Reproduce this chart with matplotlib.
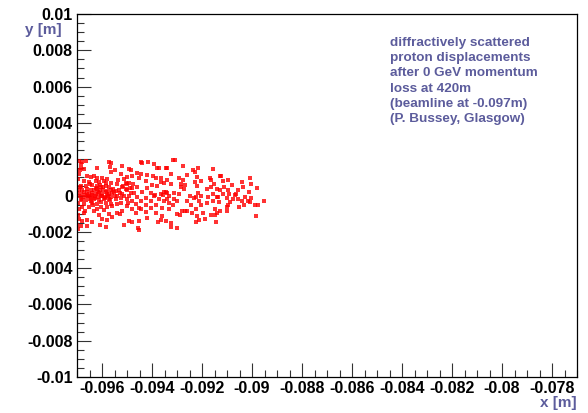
import numpy as np
from matplotlib import pyplot as plt
from matplotlib.ticker import MultipleLocator, FuncFormatter

# Proton hit positions, in millimetres.
x_mm = [
    # far end of the band
    -90.08, -90.39, -90.03, -90.36, -89.79, -90.55, -90.11, -90.63, -90.27, -90.03,
    -90.55, -90.39, -90.16, -90.09, -89.52, -90.32, -89.89, -89.75, -90.52, -89.83,
    # around -0.092
    -92.16, -92.27, -91.55, -91.28, -91.23, -92.20, -91.69, -91.65, -90.95, -92.05,
    -91.17, -92.28, -91.51, -90.81, -92.19, -91.63, -91.12, -91.41, -91.79, -90.95,
    -91.29, -92.16, -91.55, -91.15, -90.93, -91.75, -91.41, -91.36, -90.69, -92.25,
    -92.03, -90.99, -90.76, -92.12, -91.55, -91.31, -91.81, -90.88, -90.96, -92.05,
    -90.99, -92.25, -91.48, -91.28, -90.99, -91.41, -91.97, -91.63, -91.49, -92.21,
    -91.88, -92.12, -92.25, -91.44,
    # around -0.093
    -93.15, -93.09, -93.79, -93.71, -93.45, -93.39, -92.75, -92.35, -93.25, -92.59,
    -93.85, -93.65, -92.92, -93.39, -92.75, -93.63, -93.52, -93.25, -92.85, -92.69,
    -93.79, -92.83, -92.72, -93.52, -93.45, -93.41, -93.63, -93.55, -93.12, -92.92,
    -93.88, -93.32, -92.48, -92.32, -93.72, -93.39, -93.12, -93.52, -92.99, -92.59,
    -93.32, -92.45, -93.85, -93.15, -93.59, -93.32, -92.79, -92.69, -92.59, -92.99,
    -92.88, -93.85, -92.39, -93.59, -93.65, -93.45, -93.25, -93.76, -93.01, -93.25,
    # around -0.0945
    -94.45, -94.39, -94.15, -93.92, -94.92, -94.85, -95.48, -94.61, -94.43, -94.19,
    -93.95, -95.25, -94.79, -94.52, -95.12, -94.25, -95.05, -94.99, -94.92, -94.75,
    -95.39, -93.99, -95.19, -94.88, -94.79, -94.59, -94.19, -95.32, -95.01, -95.52,
    -95.45, -94.72, -94.39, -94.05, -95.19, -95.12, -94.92, -95.39, -94.59, -94.25,
    -93.92, -95.45, -95.01, -94.79, -94.45, -94.05, -95.25, -94.65, -94.25, -94.99,
    -94.52, -94.45, -94.05, -94.79, -95.19, -94.25, -95.41, -94.65, -94.92, -94.79,
    -94.52, -94.19, -95.12, -94.56, -94.52,
    # dense core next to the beamline
    -96.92, -96.79, -96.65, -95.72, -95.63, -96.85, -96.72, -95.63, -96.92, -96.59,
    -96.45, -96.32, -96.19, -95.99, -95.79, -96.72, -96.52, -96.25, -96.12, -95.92,
    -95.65, -96.85, -96.65, -96.39, -96.19, -96.05, -95.85, -95.72, -96.92, -96.79,
    -96.59, -96.45, -96.32, -96.21, -96.08, -95.95, -95.79, -95.63, -96.99, -96.85,
    -96.72, -96.52, -96.39, -96.25, -96.12, -95.99, -95.85, -95.72, -95.59,
    -96.92, -96.75, -96.61, -96.45, -96.29, -96.16, -96.03, -95.89, -95.76, -95.63,
    -96.85, -96.65, -96.48, -96.32, -96.12, -95.92, -95.72,
    -96.96, -96.72, -96.39, -96.19, -95.85, -95.65,
    -96.79, -96.52, -96.05, -95.79, -96.92, -96.32, -95.92, -96.72, -96.12, -95.72,
    -96.92, -96.79, -96.59, -95.99, -95.79, -96.99, -96.85, -96.59, -95.85,
    -96.70, -96.55, -96.40, -96.30, -96.15, -96.00, -95.90, -95.80, -96.60, -96.45,
    -96.25, -96.05, -95.95, -95.70, -95.55, -95.50, -96.80, -96.90, -96.35, -96.10,
    -95.60, -95.30, -95.25, -95.05, -94.95, -95.15, -94.85, -96.50, -96.20, -95.85,
    -95.40, -95.35, -96.70, -96.95, -96.95, -96.90, -96.98, -96.85, -95.20, -95.60,
    -95.30, -95.00, -95.70, -96.20, -96.40, -96.10,
]
y_mm = [
    0.99, 0.73, 0.65, 0.46, 0.43, 0.28, 0.22, 0.06, -0.07, -0.13,
    -0.22, -0.31, -0.31, -0.35, -0.28, -0.50, -0.54, -0.54, -0.62, -1.12,
    1.51, 1.29, 1.44, 1.07, 1.07, 1.01, 0.94, 0.88, 0.83, 0.79,
    0.79, 0.76, 0.66, 0.59, 0.54, 0.48, 0.46, 0.37, 0.37, 0.31,
    0.33, 0.15, 0.09, 0.06, 0.06, -0.06, -0.06, -0.06, 0.02, -0.07,
    -0.04, -0.15, -0.22, -0.28, -0.28, -0.37, -0.44, -0.37, -0.50, -0.54,
    -0.62, -0.73, -0.72, -0.88, -0.88, -0.95, -0.95, -1.10, -1.05, -1.14,
    -1.32, -1.36, -1.44, -1.44,
    1.93, 1.93, 1.53, 1.53, 1.53, 1.49, 1.62, 1.40, 1.21, 1.14,
    0.98, 0.98, 0.95, 0.88, 0.84, 0.76, 0.68, 0.65, 0.66, 0.59,
    0.55, 0.48, 0.37, 0.18, 0.18, 0.15, 0.09, 0.04, 0.15, 0.06,
    0.02, -0.04, -0.04, -0.13, -0.22, -0.17, -0.22, -0.31, -0.31, -0.31,
    -0.40, -0.50, -0.50, -0.55, -0.68, -0.73, -0.83, -0.87, -0.87, -1.01,
    -1.05, -0.99, -0.99, -1.14, -1.36, -1.38, -1.51, -1.47, -1.78, -1.73,
    1.84, 1.81, 1.84, 1.71, 1.47, 1.40, 1.38, 1.25, 1.18, 1.14,
    1.07, 1.16, 1.07, 0.99, 0.92, 0.79, 0.70, 0.65, 0.70, 0.61,
    0.65, 0.57, 0.48, 0.43, 0.39, 0.48, 0.39, 0.33, 0.29, 0.18,
    0.24, 0.15, 0.18, 0.15, 0.06, 0.00, 0.00, -0.04, -0.09, -0.13,
    -0.04, -0.22, -0.22, -0.28, -0.31, -0.31, -0.40, -0.46, -0.50, -0.59,
    -0.68, -0.72, -0.68, -0.77, -0.87, -0.92, -0.95, -0.99, -1.42, -1.47,
    -1.42, -1.23, -1.60, -1.78, -1.88,
    1.89, 1.84, 1.88, 1.84, 1.77, 1.53, 1.47, 1.29, 1.16, 1.07,
    1.03, 1.07, 0.99, 0.95, 0.92, 0.79, 0.76, 0.79, 0.73, 0.79,
    0.70, 0.55, 0.51, 0.59, 0.51, 0.48, 0.51, 0.46, 0.33, 0.29,
    0.37, 0.33, 0.29, 0.37, 0.29, 0.33, 0.26, 0.29, 0.15, 0.11,
    0.18, 0.11, 0.15, 0.07, 0.15, 0.11, 0.18, 0.09, 0.15,
    -0.04, -0.09, -0.04, -0.09, -0.04, -0.09, -0.04, -0.09, -0.04, -0.09,
    -0.22, -0.26, -0.18, -0.22, -0.26, -0.18, -0.22,
    -0.44, -0.46, -0.44, -0.46, -0.44, -0.46,
    -0.61, -0.63, -0.61, -0.63, -0.77, -0.83, -0.80, -0.99, -1.05, -1.02,
    -1.32, -1.42, -1.34, -1.32, -1.36, -1.60, -1.66, -1.69, -1.73,
    0.02, -0.05, 0.04, -0.12, 0.22, -0.02, -0.14, 0.05, 0.20, -0.30,
    0.42, -0.38, 0.45, -0.25, 0.38, -0.05, -0.25, 0.45, -0.55, 0.60,
    -0.60, 0.12, -0.15, 0.35, -0.42, 0.55, 0.12, 0.62, -0.75, 0.68,
    -0.48, 0.85, -0.85, -1.10, 0.90, 1.40, -1.85, 1.75, 1.60, -1.20,
    -1.00, 1.00, 1.55, 1.50, -1.45, -1.60,
]

x = np.array(x_mm) / 1000.0
y = np.array(y_mm) / 1000.0

label_blue = '#5c5c9c'
plt.rcParams['font.family'] = ['Liberation Sans', 'DejaVu Sans']

fig = plt.figure(figsize=(5.88, 4.13), dpi=100)
ax = fig.add_axes([77 / 588, 36 / 413, 500 / 588, 363 / 413])

ax.plot(x, y, linestyle='none', marker='s', markersize=2.3,
        markeredgewidth=0, color='#ff0000', alpha=0.8)

ax.set_xlim(-0.097, -0.077)
ax.set_ylim(-0.01, 0.01)

ax.xaxis.set_major_locator(MultipleLocator(0.002))
ax.xaxis.set_minor_locator(MultipleLocator(0.0005))
ax.yaxis.set_major_locator(MultipleLocator(0.002))
ax.yaxis.set_minor_locator(MultipleLocator(0.0005))

fmt = FuncFormatter(lambda v, pos: '%g' % (round(v, 6) + 0.0))
ax.xaxis.set_major_formatter(fmt)
ax.yaxis.set_major_formatter(fmt)

ax.tick_params(which='both', direction='in', top=False, right=False,
               width=0.8, color='#333333')
ax.tick_params(which='major', length=10, labelsize=11.5, pad=3)
ax.tick_params(which='minor', length=5)
for lbl in ax.get_xticklabels() + ax.get_yticklabels():
    lbl.set_fontweight('bold')
for side in ax.spines.values():
    side.set_linewidth(0.9)

fig.text(62 / 588, 1 - 30 / 413, 'y [m]', ha='right', va='center',
         fontsize=11, fontweight='bold', color=label_blue)
fig.text(577 / 588, 1 - 403 / 413, 'x [m]', ha='right', va='center',
         fontsize=11, fontweight='bold', color=label_blue)

note = ("diffractively scattered\n"
        "proton displacements\n"
        "after 0 GeV momentum\n"
        "loss at 420m\n"
        "(beamline at -0.097m)\n"
        "(P. Bussey, Glasgow)")
fig.text(390 / 588, 1 - 37 / 413, note, ha='left', va='top', fontsize=9.7,
         fontweight='bold', color=label_blue, linespacing=1.36)

fig.savefig('out.png', dpi=100)
